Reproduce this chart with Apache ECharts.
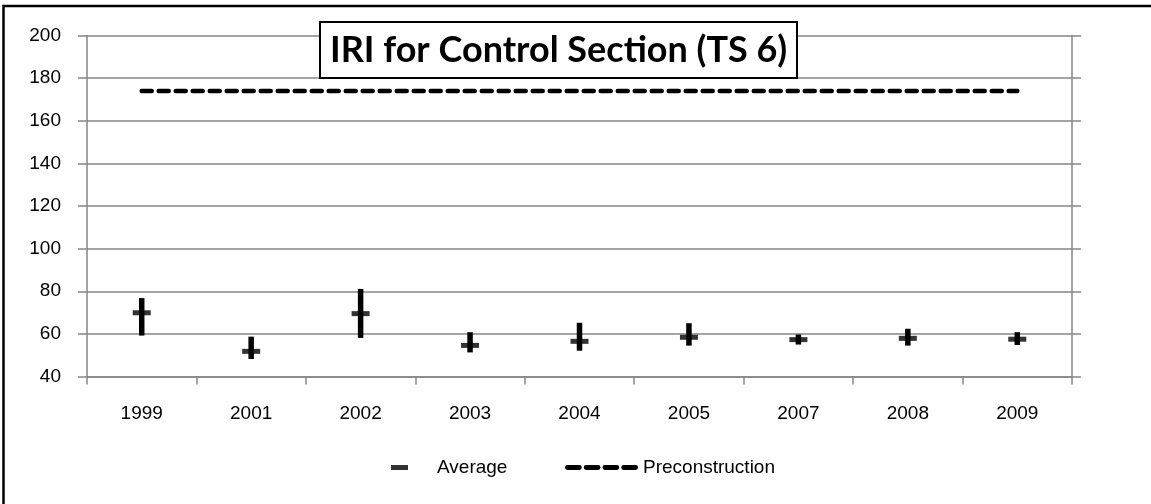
<!DOCTYPE html>
<html>
<head>
<meta charset="utf-8">
<script src="https://cdn.jsdelivr.net/npm/echarts@6/dist/echarts.min.js"></script>
<style>
html, body { margin: 0; padding: 0; background: #fff; }
#main { width: 1151px; height: 504px; }
</style>
</head>
<body>
<div id="main"></div>
<script>
var years = ["1999", "2001", "2002", "2003", "2004", "2005", "2007", "2008", "2009"];
var highVals = [76.8, 58.7, 81.1, 60.8, 65.2, 65.0, 59.7, 62.4, 60.8];
var lowVals = [59.2, 48.2, 58.1, 51.3, 52.1, 54.5, 55.0, 54.5, 54.8];
var avgVals = [69.9, 51.8, 69.5, 54.6, 56.5, 58.4, 57.3, 57.9, 57.5];
var preVals = [174, 174, 174, 174, 174, 174, 174, 174, 174];
var yTicks = [40, 60, 80, 100, 120, 140, 160, 180, 200];

var font = "'Liberation Sans', 'Open Sans', sans-serif";
var grayLine = "#868686";
// four short dashes for the Preconstruction legend key
var dashIcon = "path://M2,0h12a2,2 0 0 1 0,5h-12a2,2 0 0 1 0,-5zM21,0h12a2,2 0 0 1 0,5h-12a2,2 0 0 1 0,-5zM40,0h12a2,2 0 0 1 0,5h-12a2,2 0 0 1 0,-5zM59,0h12a2,2 0 0 1 0,5h-12a2,2 0 0 1 0,-5z";

var rangeData = years.map(function(y, i) {
    return [i, lowVals[i], highVals[i]];
});

var chart = echarts.init(document.getElementById("main"));
chart.setOption({
    animation: false,
    backgroundColor: "#fff",
    textStyle: { fontFamily: font, color: "#000" },
    graphic: [{
        type: "rect",
        shape: { x: 3.5, y: 6, width: 1160, height: 520 },
        style: { fill: "none", stroke: "#000", lineWidth: 2.5 },
        silent: true
    }],
    title: {
        text: "IRI for Control Section (TS 6)",
        left: 320,
        top: 22,
        padding: [10, 10, 10, 10],
        borderColor: "#000",
        borderWidth: 2,
        backgroundColor: "#fff",
        textStyle: {
            fontFamily: "Lato, sans-serif",
            fontWeight: "bold",
            fontSize: 36,
            color: "#000"
        }
    },
    legend: [{
        data: [{ name: "Average", icon: "rect", itemStyle: { color: "#000" } }],
        left: 386,
        top: 453,
        itemWidth: 17,
        itemHeight: 5,
        textStyle: { fontSize: 19, color: "#000", padding: [0, 0, 0, 24] }
    }, {
        data: [{ name: "Preconstruction", icon: dashIcon, itemStyle: { color: "#000" } }],
        left: 560,
        top: 453,
        itemWidth: 73,
        itemHeight: 5,
        textStyle: { fontSize: 19, color: "#000", padding: [0, 0, 0, 0] }
    }],
    grid: { left: 87, right: 79, top: 35.5, bottom: 127.5 },
    xAxis: {
        type: "category",
        data: years,
        boundaryGap: true,
        axisLine: { lineStyle: { color: grayLine, width: 1.5 } },
        axisTick: { show: true, length: 8, lineStyle: { color: grayLine, width: 1.5 } },
        axisLabel: { fontSize: 19, color: "#000", margin: 28, fontFamily: font }
    },
    yAxis: [{
        type: "value",
        min: yTicks[0],
        max: yTicks[yTicks.length - 1],
        interval: 20,
        axisLine: { show: true, lineStyle: { color: grayLine, width: 1.5 } },
        axisTick: { show: true, length: 9, lineStyle: { color: grayLine, width: 1.5 } },
        axisLabel: { fontSize: 19, color: "#000", margin: 26, fontFamily: font },
        splitLine: { show: true, lineStyle: { color: grayLine, width: 1.5 } }
    }, {
        type: "value",
        position: "right",
        min: yTicks[0],
        max: yTicks[yTicks.length - 1],
        interval: 20,
        axisLine: { show: true, lineStyle: { color: grayLine, width: 1.5 } },
        axisTick: { show: true, length: 9, lineStyle: { color: grayLine, width: 1.5 } },
        axisLabel: { show: false },
        splitLine: { show: false }
    }],
    series: [{
        name: "Range",
        type: "custom",
        data: rangeData,
        z: 3,
        encode: { x: 0, y: [1, 2] },
        renderItem: function(params, api) {
            var lo = api.coord([api.value(0), api.value(1)]);
            var hi = api.coord([api.value(0), api.value(2)]);
            return {
                type: "line",
                shape: { x1: lo[0], y1: lo[1], x2: hi[0], y2: hi[1] },
                style: { stroke: "#000", lineWidth: 5.5 }
            };
        }
    }, {
        name: "Average",
        type: "scatter",
        data: avgVals,
        symbol: "rect",
        symbolSize: [18, 5],
        z: 4,
        itemStyle: { color: "#000" }
    }, {
        name: "Preconstruction",
        type: "line",
        data: preVals,
        showSymbol: false,
        symbol: "none",
        itemStyle: { color: "#000" },
        lineStyle: { color: "#000", width: 4.5, type: [10, 7], cap: "round" }
    }]
});
</script>
</body>
</html>
